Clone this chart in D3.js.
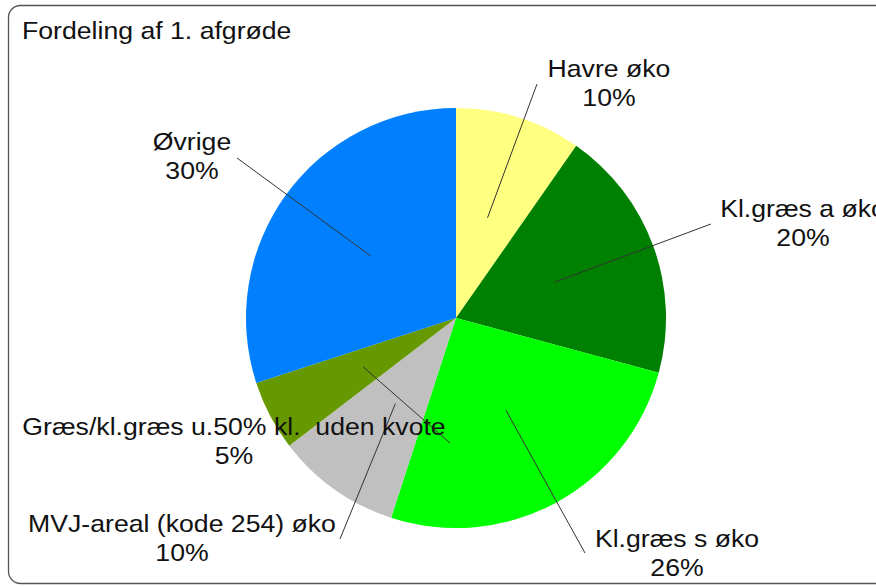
<!DOCTYPE html>
<html>
<head>
<meta charset="utf-8">
<script src="https://cdn.jsdelivr.net/npm/d3@7"></script>
<style>
  body { margin: 0; background: #fff; }
  text { font-family: "Liberation Sans", Arial, sans-serif; fill: #111; }
</style>
</head>
<body>
<script>
    // data
    const categories = ["Havre øko", "Kl.græs a øko", "Kl.græs s øko", "MVJ-areal (kode 254) øko", "Græs/kl.græs u.50% kl.  uden kvote", "Øvrige"];
    const values = [9.7, 19.5, 25.8, 9.6, 5.4, 30.0];
    const colors = ["#ffff80", "#008000", "#00ff00", "#c0c0c0", "#669900", "#0080ff"];

    // label layout: text centre x, first baseline y, leader end point
    const labelX = [609, 803, 677, 182, 234, 192];
    const labelY = [77, 217, 547, 532, 435, 150];
    const leaderEnd = [[537, 84], [711, 224], [585, 553], [340, 539], [450, 443], [237, 158]];

    const width = 876, height = 586;
    const cx = 456, cy = 318, R = 210;
    const fs = 24, sx = 1.11; // text is a bit wider than plain Arial

    const svg = d3.select("body").append("svg")
        .attr("width", width)
        .attr("height", height);

    // frame
    svg.append("rect")
        .attr("x", 8.5).attr("y", 5.5)
        .attr("width", 900).attr("height", 578)
        .attr("rx", 12).attr("ry", 12)
        .attr("fill", "#fff")
        .attr("stroke", "#555")
        .attr("stroke-width", 1.3);

    svg.append("text")
        .attr("transform", `translate(22,39) scale(${sx},1)`)
        .attr("font-size", fs)
        .text("Fordeling af 1. afgrøde");

    const total = d3.sum(values);
    const pie = d3.pie().sort(null).value(d => d)(values);
    const arc = d3.arc().innerRadius(0).outerRadius(R);

    const g = svg.append("g").attr("transform", `translate(${cx},${cy})`);

    g.selectAll("path")
        .data(pie)
        .join("path")
        .attr("d", arc)
        .attr("fill", (d, i) => colors[i]);

    // leader lines from the arc centroid to the label
    g.selectAll("line")
        .data(pie)
        .join("line")
        .attr("x1", d => arc.centroid(d)[0])
        .attr("y1", d => arc.centroid(d)[1])
        .attr("x2", (d, i) => leaderEnd[i][0] - cx)
        .attr("y2", (d, i) => leaderEnd[i][1] - cy)
        .attr("stroke", "#333")
        .attr("stroke-width", 1);

    const labels = svg.append("g")
        .selectAll("text")
        .data(pie)
        .join("text")
        .attr("transform", (d, i) => `translate(${labelX[i]},${labelY[i]}) scale(${sx},1)`)
        .attr("text-anchor", "middle")
        .attr("font-size", fs)
        .style("white-space", "pre");
    labels.append("tspan")
        .attr("x", 0)
        .attr("y", 0)
        .text((d, i) => categories[i]);
    labels.append("tspan")
        .attr("x", 0)
        .attr("y", 29)
        .text(d => Math.round(d.value / total * 100) + "%");
</script>
</body>
</html>
